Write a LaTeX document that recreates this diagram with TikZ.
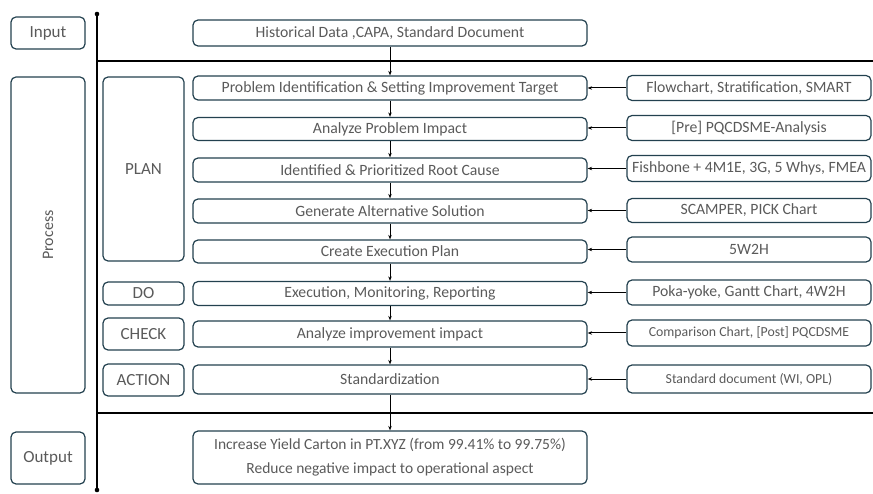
\documentclass[tikz,border=0pt]{standalone}
\usepackage{fontspec}
\setmainfont{Carlito}
\usetikzlibrary{arrows.meta}
\definecolor{boxc}{HTML}{23414F}
\definecolor{txt}{HTML}{5A5A5A}
\tikzset{
  box/.style={draw=boxc, line width=1.2pt, rounded corners=5pt, text=txt, inner sep=0pt, align=center, font=\fontsize{15.7}{18}\selectfont},
  stepbox/.style={box, minimum width=394pt},
  toolbox/.style={box, minimum width=244pt},
  sidebox/.style={box, minimum width=81pt, font=\fontsize{17}{20}\selectfont},
  lbox/.style={box, minimum width=74pt, font=\fontsize{17}{20}\selectfont},
  smallfont/.style={font=\fontsize{13.8}{16}\selectfont},
  arr/.style={line width=1pt, -{Stealth[length=4.5pt,width=3.5pt]}},
  rule/.style={line width=1.2pt}
}
\begin{document}
\begin{tikzpicture}[x=1pt,y=-1pt]
\useasboundingbox (0,0) rectangle (873,494);
% left labels
\node[lbox, minimum height=32pt] (inp) at (48,33) {Input};
\node[lbox, minimum height=316pt] (proc) at (48,235) {\rotatebox{90}{\fontsize{16}{18}\selectfont Process}};
\node[lbox, minimum height=52pt] (outl) at (48,458) {Output};
% axis
\coordinate (vt) at (97,14);
\coordinate (vb) at (97,490);
\draw[rule] (vt) -- (vb);
\fill (vt) circle (2.3pt);
\fill (vb) circle (2.3pt);
\coordinate (h1l) at (97,61);
\coordinate (h1r) at (873,61);
\coordinate (h2l) at (97,413);
\coordinate (h2r) at (873,413);
\draw[rule] (h1l) -- (h1r);
\draw[rule] (h2l) -- (h2r);
% PDCA labels
\node[sidebox, minimum height=184pt] (plan) at (143.5,169) {PLAN};
\node[sidebox, minimum height=23pt] (do) at (143.5,293.5) {DO};
\node[sidebox, minimum height=32pt] (check) at (143.5,334) {CHECK};
\node[sidebox, minimum height=32pt] (action) at (143.5,380) {ACTION};
% main steps
\node[stepbox, minimum height=26pt] (hist) at (390,33) {Historical Data ,CAPA, Standard Document};
\node[stepbox, minimum height=24pt] (s1) at (390,88) {Problem Identification \& Setting Improvement Target};
\node[stepbox, minimum height=23pt] (s2) at (390,129) {Analyze Problem Impact};
\node[stepbox, minimum height=24pt] (s3) at (390,170) {Identified \& Prioritized Root Cause};
\node[stepbox, minimum height=24pt] (s4) at (390,211) {Generate Alternative Solution};
\node[stepbox, minimum height=23pt] (s5) at (390,251.5) {Create Execution Plan};
\node[stepbox, minimum height=24pt] (s6) at (390,293.5) {Execution, Monitoring, Reporting};
\node[stepbox, minimum height=26pt] (s7) at (390,334) {Analyze improvement impact};
\node[stepbox, minimum height=29pt] (s8) at (390,379.5) {Standardization};
\node[stepbox, minimum height=53pt, font=\fontsize{15.5}{24}\selectfont] (out) at (390,457.5) {Increase Yield Carton in PT.XYZ (from 99.41\% to 99.75\%)\\Reduce negative impact to operational aspect};
% tools
\node[toolbox, minimum height=25pt] (t1) at (749,88) {Flowchart, Stratification, SMART};
\node[toolbox, minimum height=25pt] (t2) at (749,128) {[Pre] PQCDSME-Analysis};
\node[toolbox, minimum height=26pt] (t3) at (749,168.5) {Fishbone + 4M1E, 3G, 5 Whys, FMEA};
\node[toolbox, minimum height=24pt] (t4) at (749,210.5) {SCAMPER, PICK Chart};
\node[toolbox, minimum height=25pt] (t5) at (749,249.5) {5W2H};
\node[toolbox, minimum height=25pt] (t6) at (749,292.5) {Poka-yoke, Gantt Chart, 4W2H};
\node[toolbox, minimum height=26pt, smallfont] (t7) at (749,333) {Comparison Chart, [Post] PQCDSME};
\node[toolbox, minimum height=28pt, smallfont] (t8) at (749,379) {Standard document (WI, OPL)};
% vertical flow
\draw[arr] (hist) -- (s1);
\draw[arr] (s1) -- (s2);
\draw[arr] (s2) -- (s3);
\draw[arr] (s3) -- (s4);
\draw[arr] (s4) -- (s5);
\draw[arr] (s5) -- (s6);
\draw[arr] (s6) -- (s7);
\draw[arr] (s7) -- (s8);
\draw[arr] (s8) -- (out);
% tool arrows
\foreach \i in {1,...,8}{
  \draw[arr] (t\i.west) -- (t\i.west -| s\i.east);
}
\end{tikzpicture}
\end{document}
